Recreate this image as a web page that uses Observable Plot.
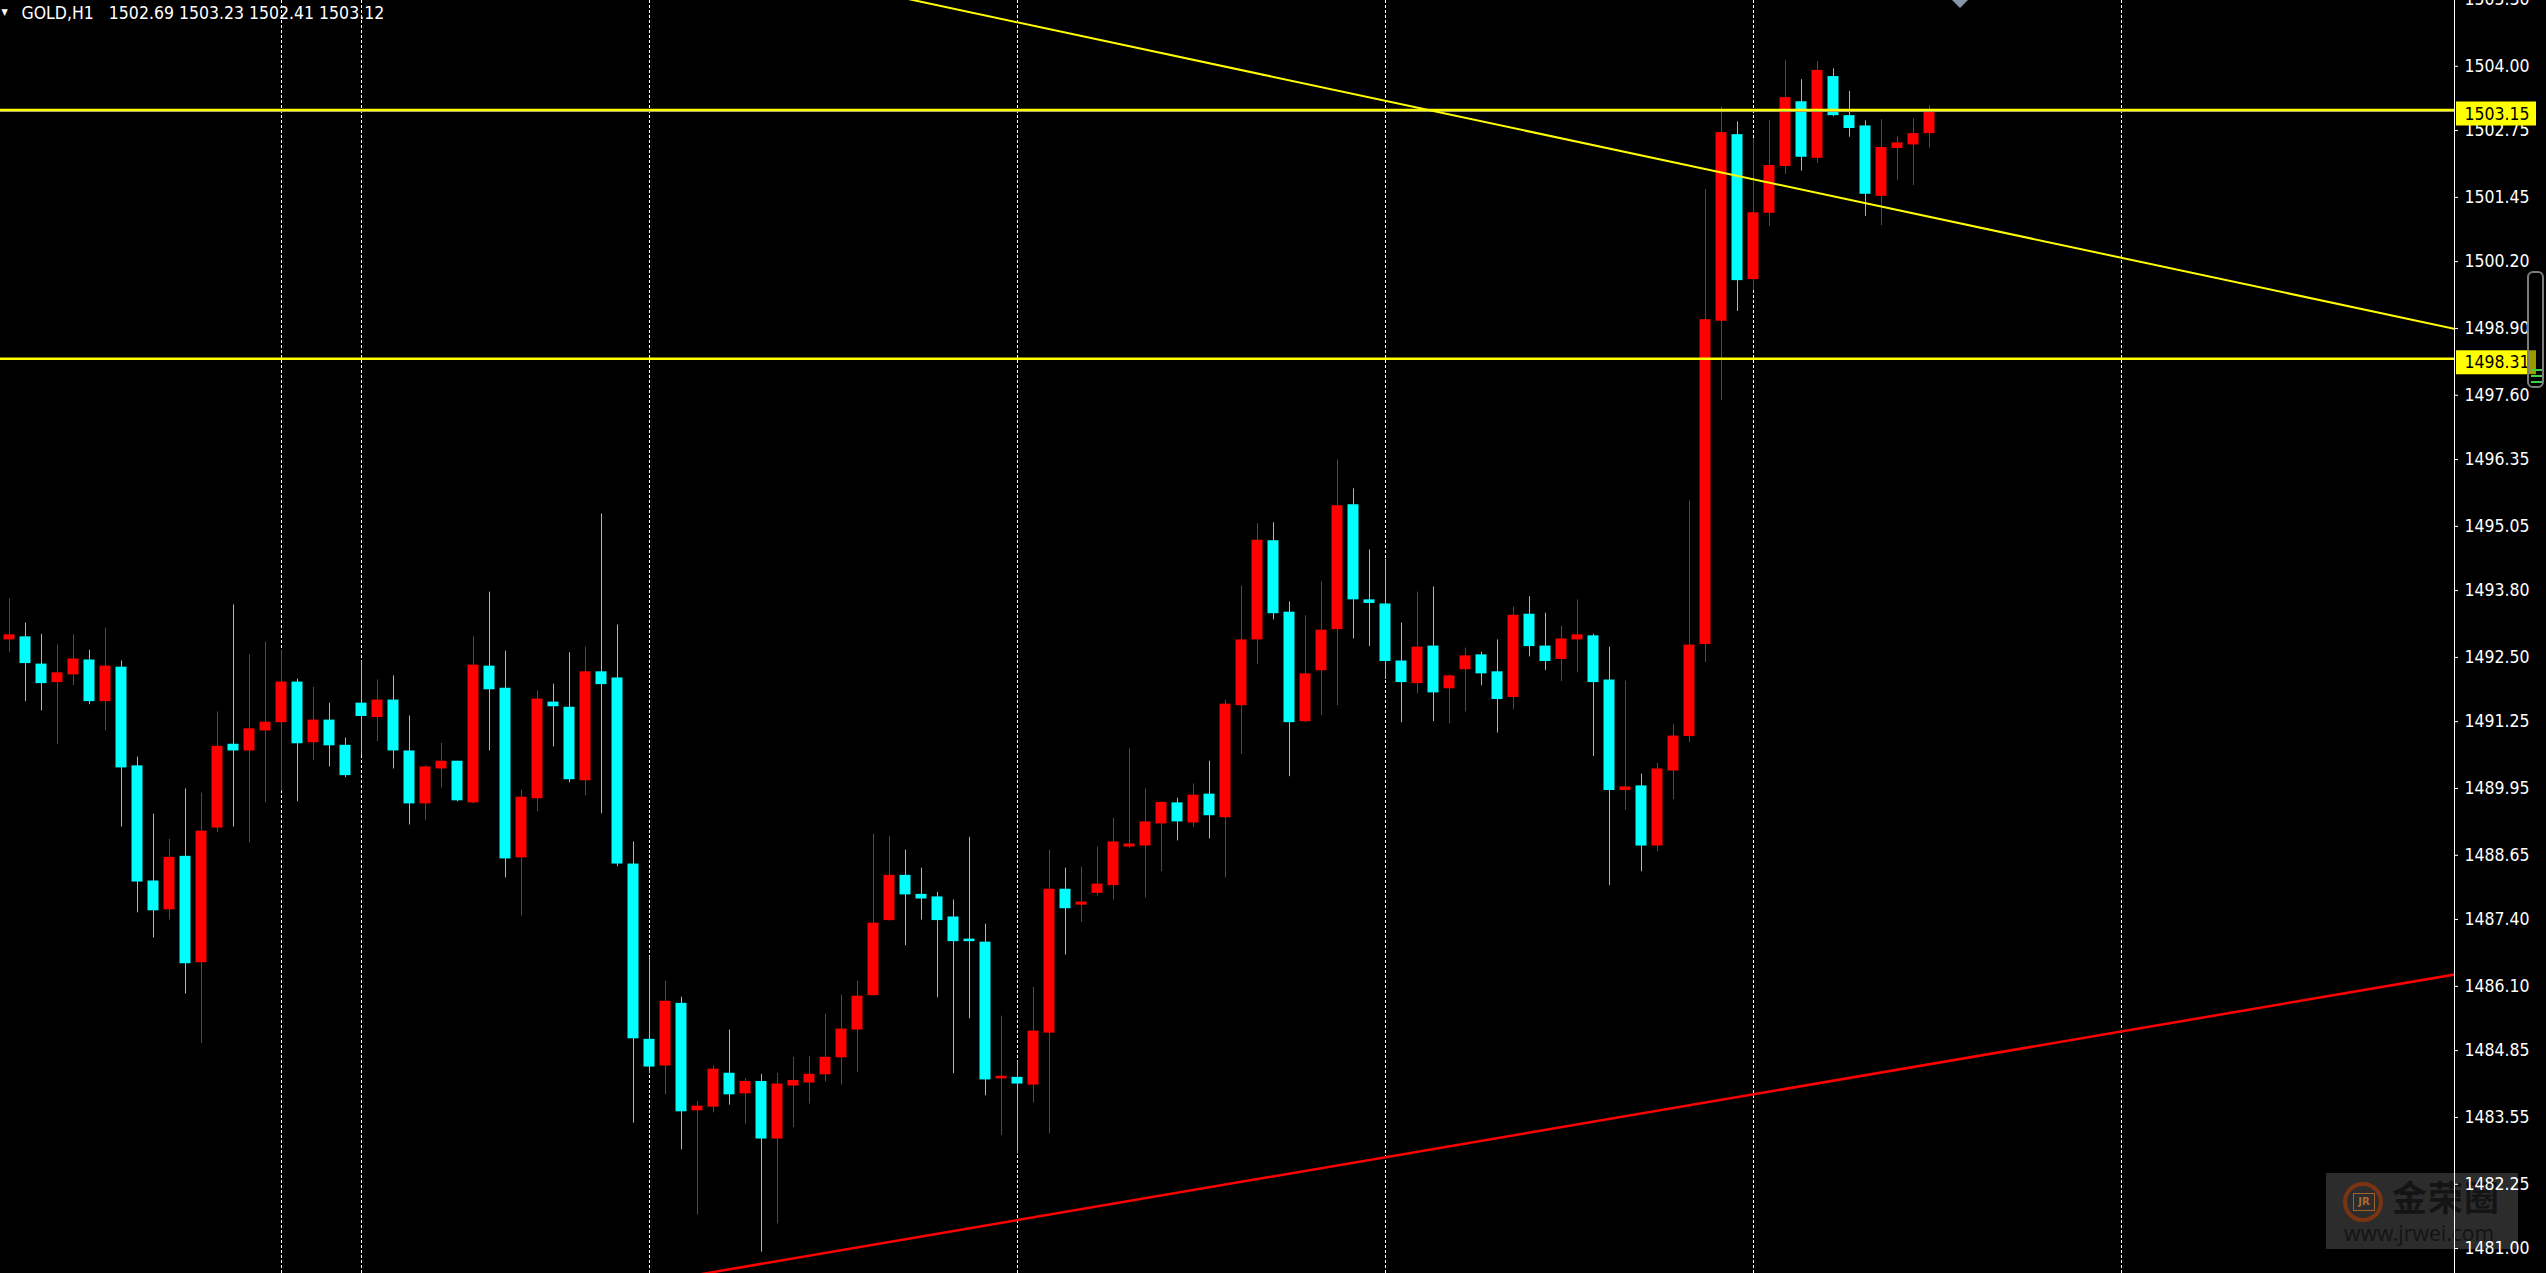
<!DOCTYPE html>
<html>
<head>
<meta charset="utf-8">
<script src="https://cdn.jsdelivr.net/npm/d3@7"></script>
<script src="https://cdn.jsdelivr.net/npm/@observablehq/plot@0.6"></script>
<style>
  html, body { margin: 0; padding: 0; background: #000; overflow: hidden; }
  #wrap { position: relative; width: 2546px; height: 1273px; background: #000; }
  #wrap svg { display: block; position: relative; z-index: 1; }
  .ov { position: absolute; }
  .under { z-index: 0; }
  .over { z-index: 2; }
</style>
</head>
<body>
<div id="wrap"></div>
<script>
// ---- Data (GOLD, H1 candles, oldest first) ----
const opens = [1492.84,1492.90,1492.37,1492.01,1492.16,1492.45,1491.64,1492.31,1490.39,1488.15,
1487.59,1488.63,1486.56,1489.18,1490.81,1490.68,1491.07,1491.23,1492.02,1490.84,
1491.28,1490.79,1491.61,1491.33,1491.67,1490.68,1489.65,1490.33,1490.48,1489.67,
1492.33,1491.90,1488.60,1489.75,1491.63,1491.53,1490.10,1492.22,1492.10,1488.48,
1485.07,1484.55,1485.77,1483.68,1483.75,1484.41,1484.01,1484.25,1483.13,1484.16,
1484.22,1484.38,1484.71,1485.25,1485.92,1487.38,1488.26,1487.89,1487.84,1487.45,
1487.02,1486.96,1484.30,1484.33,1484.18,1485.19,1487.99,1487.68,1487.91,1488.06,
1488.81,1488.83,1489.26,1489.67,1489.28,1489.84,1489.38,1491.56,1492.84,1494.77,
1493.38,1491.25,1492.24,1493.04,1495.47,1493.62,1493.54,1492.43,1491.99,1492.72,
1491.89,1492.26,1492.55,1492.22,1491.72,1493.34,1492.72,1492.46,1492.84,1492.92,
1492.06,1489.91,1490.00,1488.83,1490.29,1490.96,1492.75,1499.04,1502.67,1499.85,
1501.14,1502.05,1503.31,1502.21,1503.80,1503.04,1502.84,1501.47,1502.40,1502.47,
1502.69];
const highs = [1493.64,1493.17,1492.95,1492.74,1492.94,1492.64,1493.07,1492.43,1490.56,1489.45,
1488.96,1489.94,1489.86,1491.44,1493.52,1492.55,1492.80,1492.64,1492.08,1491.92,
1491.61,1490.93,1492.43,1492.06,1492.14,1491.36,1490.39,1490.83,1490.48,1492.90,
1493.77,1492.62,1489.92,1491.85,1491.98,1492.59,1492.70,1495.29,1493.13,1488.91,
1486.67,1486.20,1485.89,1483.86,1484.55,1485.25,1484.31,1484.39,1484.41,1484.72,
1484.74,1485.56,1485.93,1486.20,1489.06,1489.02,1488.75,1488.40,1487.93,1487.78,
1489.00,1487.31,1485.52,1484.65,1486.08,1488.75,1488.40,1488.42,1488.81,1489.37,
1490.72,1489.94,1489.68,1489.76,1490.04,1490.48,1491.67,1493.89,1495.10,1495.12,
1493.58,1493.31,1493.97,1496.34,1495.78,1494.59,1494.41,1493.17,1493.77,1493.87,
1492.16,1492.68,1492.60,1492.84,1493.48,1493.68,1493.36,1493.11,1493.62,1492.95,
1492.70,1492.04,1490.23,1490.44,1491.20,1495.54,1501.60,1503.21,1502.92,1502.59,
1502.94,1504.11,1503.74,1504.09,1503.95,1503.51,1502.94,1502.96,1502.63,1502.98,
1503.23];
const lows = [1492.59,1491.64,1491.46,1490.80,1491.95,1491.58,1491.07,1489.20,1487.53,1487.04,
1487.39,1485.95,1484.99,1489.09,1489.20,1488.89,1489.67,1489.90,1489.69,1490.49,
1490.37,1490.16,1490.59,1490.86,1490.33,1489.24,1489.33,1489.96,1489.69,1489.65,
1490.68,1488.21,1487.47,1489.50,1490.76,1490.06,1489.81,1489.46,1488.43,1483.44,
1484.40,1483.99,1482.92,1481.65,1483.64,1483.79,1483.42,1480.93,1481.48,1483.35,
1483.81,1484.24,1484.18,1484.42,1485.91,1487.37,1486.89,1487.39,1485.88,1484.40,
1485.47,1483.97,1483.20,1482.84,1483.83,1483.23,1486.71,1487.34,1487.86,1487.78,
1488.78,1487.82,1488.33,1488.93,1489.19,1488.97,1488.21,1490.61,1492.36,1493.23,
1490.18,1491.23,1491.37,1491.56,1492.86,1492.71,1492.07,1491.23,1491.79,1491.25,
1491.21,1491.44,1491.95,1491.03,1491.48,1492.51,1492.24,1492.03,1492.20,1490.57,
1488.06,1489.52,1488.33,1488.72,1489.73,1490.84,1492.40,1497.50,1499.23,1499.64,
1500.88,1501.90,1501.96,1502.11,1503.02,1502.62,1501.08,1500.90,1501.78,1501.68,
1502.41];
const closes = [1492.94,1492.38,1491.99,1492.20,1492.47,1491.64,1492.33,1490.35,1488.13,1487.57,
1488.61,1486.54,1489.12,1490.77,1490.68,1491.11,1491.24,1492.02,1490.82,1491.28,
1490.78,1490.20,1491.35,1491.67,1490.68,1489.65,1490.37,1490.48,1489.71,1492.35,
1491.87,1488.58,1489.78,1491.69,1491.54,1490.12,1492.22,1491.97,1488.48,1485.08,
1484.53,1485.81,1483.66,1483.77,1484.49,1483.99,1484.25,1483.13,1484.20,1484.27,
1484.39,1484.72,1485.27,1485.91,1487.33,1488.26,1487.88,1487.80,1487.38,1486.97,
1486.97,1484.28,1484.35,1484.20,1485.23,1487.99,1487.61,1487.74,1488.09,1488.91,
1488.87,1489.30,1489.68,1489.30,1489.82,1489.42,1491.59,1492.84,1494.78,1493.35,
1491.23,1492.18,1493.03,1495.45,1493.62,1493.55,1492.42,1492.01,1492.70,1491.81,
1492.14,1492.53,1492.18,1491.68,1493.32,1492.71,1492.42,1492.86,1492.94,1492.01,
1489.91,1489.98,1488.83,1490.33,1490.97,1492.74,1499.07,1502.71,1499.83,1501.15,
1502.07,1503.39,1502.23,1503.92,1503.04,1502.79,1501.51,1502.42,1502.51,1502.69,
1503.12];

// price-axis tick labels (right scale)
const tickLabels = ["1505.30","1504.00","1502.75","1501.45","1500.20","1498.90","1497.60",
  "1496.35","1495.05","1493.80","1492.50","1491.25","1489.95","1488.65","1487.40",
  "1486.10","1484.85","1483.55","1482.25","1481.00"];
// bars where dotted vertical separators are drawn
const separatorBars = [17, 22, 40, 63, 86, 109, 132];
// horizontal level lines and the bid line
const levelPrices = [1503.15, 1498.31];
const bidPrice = 1503.12;
// trend lines: two anchor points each (bar index, price)
const yellowTrendBars = [56, 153];
const yellowTrendPrices = [1505.32, 1498.88];
const redTrendBars = [43, 153];
const redTrendPrices = [1480.49, 1486.34];
const titleText = "GOLD,H1\u00a0\u00a0 1502.69 1503.23 1502.41 1503.12";

// ---- tables for the library ----
const candles = opens.map((o, i) => ({i, open: o, high: highs[i], low: lows[i], close: closes[i]}));
const tickValues = tickLabels.map(Number);
const yellowTrend = yellowTrendBars.map((b, k) => ({bar: b, price: yellowTrendPrices[k]}));
const redTrend = redTrendBars.map((b, k) => ({bar: b, price: redTrendPrices[k]}));

const UP = "#ff0000", DOWN = "#00ffff", YEL = "#ffff00";
const xMin = -0.5625, xMax = 152.8125;
const colorOf = d => d.close > d.open ? UP : DOWN;
const FONT = "'DejaVu Sans Condensed', 'DejaVu Sans', sans-serif";

const chart = Plot.plot({
  width: 2546,
  height: 1273,
  marginLeft: 0,
  marginRight: 92,
  marginTop: 0,
  marginBottom: 0,
  style: {background: "transparent", color: "#fff", fontFamily: FONT, fontSize: "17.5px", fontStretch: "condensed"},
  x: {domain: [xMin, xMax], axis: null},
  y: {domain: [1480.514, 1505.28], axis: null},
  marks: [
    Plot.ruleX(separatorBars, {stroke: "#fff", strokeDasharray: "3,2", strokeWidth: 1}),
    Plot.ruleX(candles, {x: "i", y1: "low", y2: "high", stroke: colorOf, strokeWidth: 1}),
    Plot.rect(candles, {x1: d => d.i - 0.34375, x2: d => d.i + 0.34375, y1: "open", y2: "close", fill: colorOf}),
    Plot.ruleY([bidPrice], {stroke: "#8c8c8c", strokeWidth: 1}),
    Plot.ruleY(levelPrices, {stroke: YEL, strokeWidth: 2.5}),
    Plot.line(yellowTrend, {x: "bar", y: "price", stroke: YEL, strokeWidth: 2, clip: true}),
    Plot.line(redTrend, {x: "bar", y: "price", stroke: UP, strokeWidth: 2.5, clip: true}),
    Plot.ruleX([xMax], {stroke: "#fff", strokeWidth: 1}),
    Plot.axisY(tickValues, {anchor: "right", tickSize: 3, tickPadding: 7, tickFormat: d => d.toFixed(2), color: "#fff", fontSize: 17.5}),
    Plot.rect(levelPrices, {x1: () => xMax, x2: () => xMax, y1: d => d, y2: d => d,
      insetLeft: 2, insetRight: -82, insetTop: -8, insetBottom: -16, fill: YEL}),
    Plot.text(levelPrices, {x: () => xMax, y: d => d, text: d => d.toFixed(2), dx: 10, dy: 4,
      textAnchor: "start", fill: "#000", fontSize: 17.5}),
    Plot.text([titleText], {frameAnchor: "top-left", dx: 21, dy: 6, textAnchor: "start", fill: "#fff", fontSize: 17.5}),
    Plot.text(["\u25BC"], {frameAnchor: "top-left", dx: 4, dy: 8, textAnchor: "middle", fill: "#fff", fontSize: 9})
  ]
});
const wrap = document.getElementById("wrap");

// watermark sits underneath the chart (the SVG background is transparent)
wrap.insertAdjacentHTML("beforeend", `
<div class="ov under" style="left:2326px;top:1173px;width:192px;height:76px;background:#2c2c2c;">
  <div class="ov" style="left:17px;top:9px;width:40px;height:40px;box-sizing:border-box;border-radius:50%;border:4px solid #7a3412;"></div>
  <div class="ov" style="left:27px;top:20px;width:20px;height:16px;border:1px solid #a0602a;font:bold 10px 'DejaVu Sans',sans-serif;color:#b06a30;text-align:center;line-height:16px;">JR</div>
  <div class="ov" style="left:66px;top:2px;font:bold 35px 'Noto Sans CJK SC',sans-serif;color:#141414;letter-spacing:1px;line-height:42px;">金荣圈</div>
  <div class="ov" style="left:18px;top:47px;font:21px 'Noto Sans',sans-serif;color:#151515;line-height:26px;">www.jrwei.com</div>
</div>`);

wrap.appendChild(chart);

// terminal chrome drawn on top: chart-shift marker and scroll widget
wrap.insertAdjacentHTML("beforeend", `
<div class="ov over" style="left:1952px;top:0;width:0;height:0;border-left:8px solid transparent;border-right:8px solid transparent;border-top:8px solid #8796a8;"></div>
<div class="ov over" style="left:2527px;top:271px;width:17px;height:117px;box-sizing:border-box;border:2px solid #7c7c7c;border-radius:6px;background:rgba(0,0,0,0.4);">
  <div class="ov" style="left:2px;top:96px;width:11px;height:2px;background:#3fd04a;"></div>
  <div class="ov" style="left:2px;top:102px;width:11px;height:2px;background:#3fd04a;"></div>
  <div class="ov" style="left:2px;top:108px;width:11px;height:2px;background:#3fd04a;"></div>
</div>`);
</script>
</body>
</html>
